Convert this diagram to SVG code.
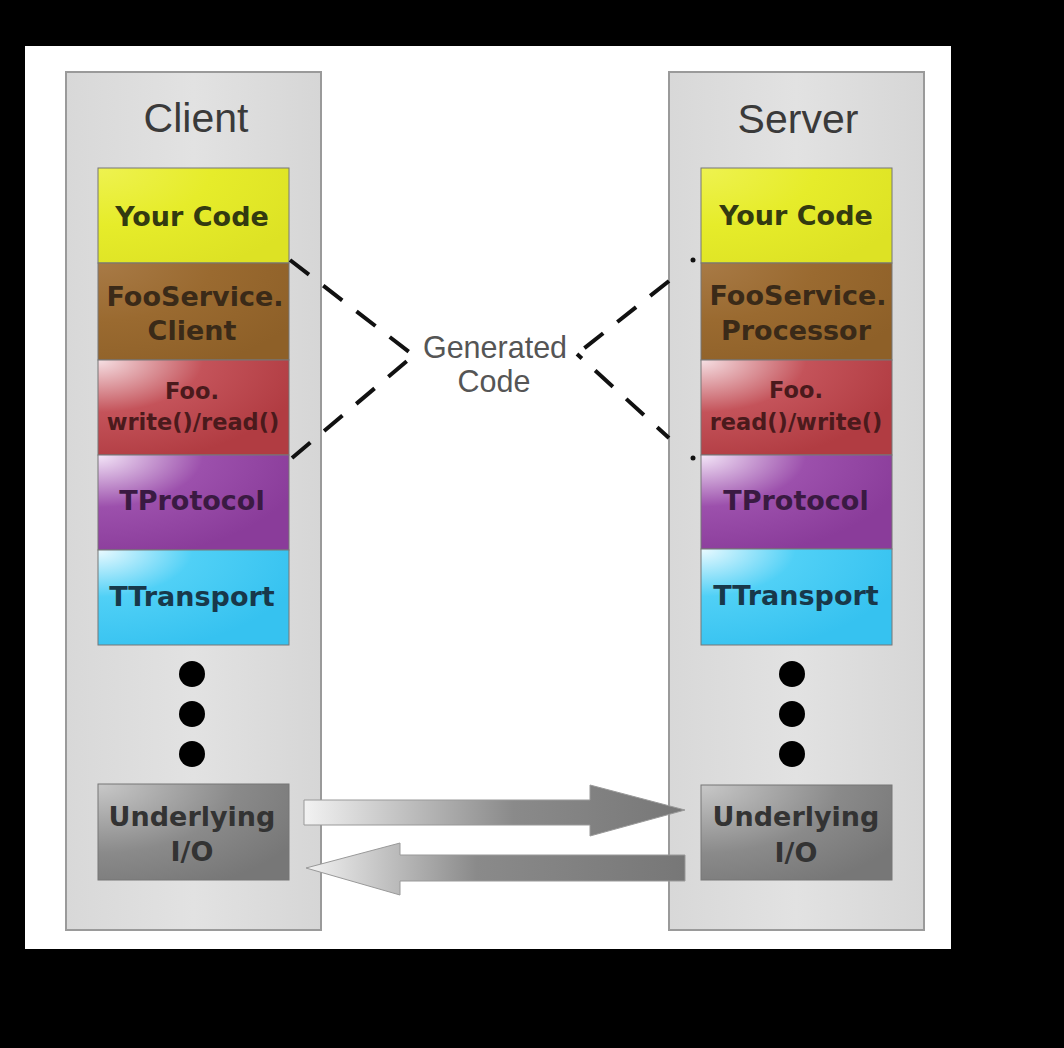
<svg xmlns="http://www.w3.org/2000/svg" width="1064" height="1048" viewBox="0 0 1064 1048">
<style>
.col{stroke:#9a9a9a;stroke-width:2;fill:url(#gCol)}
.box{stroke:#777;stroke-width:1}
.title{font-family:"Liberation Sans",Arial,sans-serif;font-size:41px;fill:#3a3a3a;text-anchor:middle}
.lbl{font-family:"DejaVu Sans",Verdana,sans-serif;font-weight:bold;font-size:27px;text-anchor:middle}
.sm{font-size:22.5px}
.gen{font-family:"Liberation Sans",Arial,sans-serif;font-size:30.5px;fill:#555;text-anchor:middle}
.dash{stroke:#111;stroke-width:4;fill:none;stroke-dasharray:24 18}
</style>
<defs>
<linearGradient id="gCol" x1="0" y1="0" x2="1" y2="0"><stop offset="0" stop-color="#d8d8d8"/><stop offset="0.5" stop-color="#e2e2e2"/><stop offset="1" stop-color="#d6d6d6"/></linearGradient>
<radialGradient id="gYel" cx="0" cy="0" r="1.2"><stop offset="0" stop-color="#eef250"/><stop offset="0.5" stop-color="#e6ec2a"/><stop offset="1" stop-color="#dde224"/></radialGradient>
<radialGradient id="gBrn" cx="0" cy="0" r="1.2"><stop offset="0" stop-color="#a87a46"/><stop offset="0.5" stop-color="#9a6a30"/><stop offset="1" stop-color="#8e6028"/></radialGradient>
<radialGradient id="gRed" cx="0" cy="0" r="1.1"><stop offset="0" stop-color="#f6e0e4"/><stop offset="0.5" stop-color="#c4535a"/><stop offset="1" stop-color="#b13c42"/></radialGradient>
<radialGradient id="gPur" cx="0" cy="0" r="1.1"><stop offset="0" stop-color="#f4e6f8"/><stop offset="0.5" stop-color="#9c50ac"/><stop offset="1" stop-color="#8a3c9a"/></radialGradient>
<radialGradient id="gCyn" cx="0" cy="0" r="1.1"><stop offset="0" stop-color="#eafaff"/><stop offset="0.45" stop-color="#50d0f6"/><stop offset="1" stop-color="#36c2f0"/></radialGradient>
<radialGradient id="gGry" cx="0" cy="0" r="1.2"><stop offset="0" stop-color="#c8c8c8"/><stop offset="0.6" stop-color="#8a8a8a"/><stop offset="1" stop-color="#777"/></radialGradient>
<linearGradient id="gArrR" x1="304" y1="0" x2="685" y2="0" gradientUnits="userSpaceOnUse"><stop offset="0" stop-color="#f2f2f2"/><stop offset="0.55" stop-color="#8a8a8a"/><stop offset="1" stop-color="#777"/></linearGradient>
<linearGradient id="gArrL" x1="306" y1="0" x2="685" y2="0" gradientUnits="userSpaceOnUse"><stop offset="0" stop-color="#f2f2f2"/><stop offset="0.45" stop-color="#8a8a8a"/><stop offset="1" stop-color="#777"/></linearGradient>
</defs>
<rect x="0" y="0" width="1064" height="1048" fill="#000"/>
<rect x="25" y="46" width="926" height="903" fill="#fff"/>

<g id="client">
<rect class="col" x="66" y="72" width="255" height="858"/>
<text class="title" x="196" y="132">Client</text>
</g>
<g id="server">
<rect class="col" x="669" y="72" width="255" height="858"/>
<text class="title" x="798" y="133">Server</text>
</g>

<g id="client-yourcode"><rect class="box" x="98" y="168" width="191" height="95" fill="url(#gYel)"/><text class="lbl" x="192" y="226" fill="#333a10">Your Code</text></g>
<g id="client-fooservice"><rect class="box" x="98" y="263" width="191" height="97" fill="url(#gBrn)"/><text class="lbl" x="195" y="306" fill="#3a2a18">FooService.</text><text class="lbl" x="192" y="340" fill="#3a2a18">Client</text></g>
<g id="client-foo"><rect class="box" x="98" y="360" width="191" height="95" fill="url(#gRed)"/><text class="lbl sm" x="192" y="399" fill="#4a1a1c">Foo.</text><text class="lbl sm" x="193" y="430" fill="#4a1a1c">write()/read()</text></g>
<g id="client-tprotocol"><rect class="box" x="98" y="455" width="191" height="95" fill="url(#gPur)"/><text class="lbl" x="192" y="510" fill="#3a1a42">TProtocol</text></g>
<g id="client-ttransport"><rect class="box" x="98" y="550" width="191" height="95" fill="url(#gCyn)"/><text class="lbl" x="192" y="606" fill="#18384a">TTransport</text></g>
<g id="client-dots" fill="#000"><circle cx="192" cy="674" r="13"/><circle cx="192" cy="714" r="13"/><circle cx="192" cy="754" r="13"/></g>
<g id="client-io"><rect class="box" x="98" y="784" width="191" height="96" fill="url(#gGry)"/><text class="lbl" x="192" y="826" fill="#333">Underlying</text><text class="lbl" x="192" y="861" fill="#333">I/O</text></g>

<g id="server-yourcode"><rect class="box" x="701" y="168" width="191" height="95" fill="url(#gYel)"/><text class="lbl" x="796" y="225" fill="#333a10">Your Code</text></g>
<g id="server-fooservice"><rect class="box" x="701" y="263" width="191" height="97" fill="url(#gBrn)"/><text class="lbl" x="798" y="305" fill="#3a2a18">FooService.</text><text class="lbl" x="796" y="340" fill="#3a2a18">Processor</text></g>
<g id="server-foo"><rect class="box" x="701" y="360" width="191" height="95" fill="url(#gRed)"/><text class="lbl sm" x="796" y="398" fill="#4a1a1c">Foo.</text><text class="lbl sm" x="796" y="430" fill="#4a1a1c">read()/write()</text></g>
<g id="server-tprotocol"><rect class="box" x="701" y="455" width="191" height="94" fill="url(#gPur)"/><text class="lbl" x="796" y="510" fill="#3a1a42">TProtocol</text></g>
<g id="server-ttransport"><rect class="box" x="701" y="549" width="191" height="96" fill="url(#gCyn)"/><text class="lbl" x="796" y="605" fill="#18384a">TTransport</text></g>
<g id="server-dots" fill="#000"><circle cx="792" cy="674" r="13"/><circle cx="792" cy="714" r="13"/><circle cx="792" cy="754" r="13"/></g>
<g id="server-io"><rect class="box" x="701" y="785" width="191" height="95" fill="url(#gGry)"/><text class="lbl" x="796" y="826" fill="#333">Underlying</text><text class="lbl" x="796" y="862" fill="#333">I/O</text></g>

<g id="generated-code"><text class="gen" x="495" y="358">Generated</text><text class="gen" x="494" y="392">Code</text></g>

<g id="connectors">
<path class="dash" d="M290,260 L413,355"/>
<path class="dash" d="M292,458 L413,356"/>
<path class="dash" d="M669,281 L577,354"/>
<path class="dash" d="M669,438 L577,354" stroke-dashoffset="8"/>
<circle cx="693" cy="260" r="2.5" fill="#111"/>
<circle cx="693" cy="458" r="2.5" fill="#111"/>
<path d="M304,800 L590,800 L590,785 L685,810 L590,836 L590,825 L304,825 Z" fill="url(#gArrR)" stroke="#999" stroke-width="1"/>
<path d="M685,855 L400,855 L400,843 L306,868 L400,895 L400,881 L685,881 Z" fill="url(#gArrL)" stroke="#999" stroke-width="1"/>
</g>
</svg>
